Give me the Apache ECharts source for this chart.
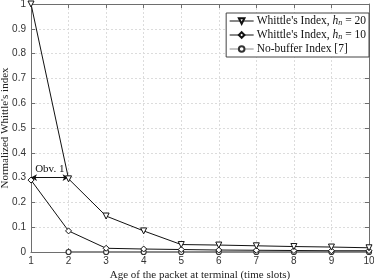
<!DOCTYPE html>
<html><head><meta charset="utf-8">
<script src="https://cdn.jsdelivr.net/npm/echarts@6/dist/echarts.min.js"></script>
<style>html,body{margin:0;padding:0;background:#fff}#c{width:374px;height:280px}</style>
</head><body><div id="c"></div>
<script>
const ages = [1,2,3,4,5,6,7,8,9,10];
const whittle20 = [1.0,0.295,0.145,0.085,0.030,0.028,0.025,0.022,0.020,0.017];
const whittle10 = [0.29,0.085,0.015,0.012,0.010,0.008,0.007,0.006,0.005,0.005];
const noBuffer = [null,0,0,0,0,0,0,0,0,0];
const names = ["Whittle's Index, h_n = 20","Whittle's Index, h_n = 10","No-buffer Index [7]"];
const obvText = 'Obv. 1';
const xLabel = 'Age of the packet at terminal (time slots)';
const yLabel = "Normalized Whittle's index";

const pairs = a => ages.map((x,i)=>[x,a[i]]);
const serif = 'Liberation Serif, DejaVu Serif, serif';
const sans = 'Liberation Sans, Arial, sans-serif';
const axisCol = '#6e6e6e';

const chart = echarts.init(document.getElementById('c'));
const baseX = {type:'value',min:1,max:10,interval:1};
const baseY = {type:'value',min:0,max:1,interval:0.1};
chart.setOption({
  animation:false,
  grid:{left:31,right:5,top:4,bottom:28,show:false,containLabel:false,outerBoundsMode:'none'},
  xAxis:[
    Object.assign({},baseX,{position:'bottom',name:xLabel,nameLocation:'middle',nameGap:18,nameMoveOverlap:false,
      nameTextStyle:{fontFamily:serif,fontSize:11,color:'#222'},
      axisLine:{show:true,lineStyle:{color:axisCol,width:1}},
      axisTick:{show:true,inside:true,length:4,lineStyle:{color:axisCol}},
      axisLabel:{fontFamily:sans,fontSize:10,color:'#333',margin:4},
      splitLine:{show:true,lineStyle:{color:'#dcdcdc',type:[2,2],width:1}}}),
    Object.assign({},baseX,{position:'top',
      axisLine:{show:true,onZero:false,lineStyle:{color:axisCol,width:1}},
      axisTick:{show:true,inside:true,length:4,lineStyle:{color:axisCol}},
      axisLabel:{show:false},splitLine:{show:false}})
  ],
  yAxis:[
    Object.assign({},baseY,{position:'left',name:yLabel,nameLocation:'middle',nameGap:20,nameMoveOverlap:false,
      nameTextStyle:{fontFamily:serif,fontSize:11,color:'#222'},
      axisLine:{show:true,lineStyle:{color:axisCol,width:1}},
      axisTick:{show:true,inside:true,length:4,lineStyle:{color:axisCol}},
      axisLabel:{fontFamily:sans,fontSize:10,color:'#333',margin:5,
        formatter:v=>String(Math.round(v*10)/10)},
      splitLine:{show:true,lineStyle:{color:'#dcdcdc',type:[2,2],width:1}}}),
    Object.assign({},baseY,{position:'right',
      axisLine:{show:true,onZero:false,lineStyle:{color:axisCol,width:1}},
      axisTick:{show:true,inside:true,length:4,lineStyle:{color:axisCol}},
      axisLabel:{show:false},splitLine:{show:false}})
  ],
  legend:{
    right:5,top:13,orient:'vertical',itemGap:2,itemWidth:24,itemHeight:7,
    backgroundColor:'#fff',borderColor:'#444',borderWidth:1,padding:[2,3,2,3],
    lineStyle:{width:1},
    data:names,
    textStyle:{fontFamily:serif,fontSize:11.5,color:'#111',padding:[0,0,0,-2],
      rich:{i:{fontFamily:serif,fontStyle:'italic',fontSize:11.5},s:{fontFamily:serif,fontStyle:'italic',fontSize:8,verticalAlign:'bottom',padding:[4,0,0,0]},t:{fontFamily:serif,fontSize:11.5}}},
    formatter:n=>{
      const m = n.match(/^(.*)h_n(.*)$/);
      if(m) return '{t|'+m[1]+'}{i|h}{s|n}{t|'+m[2]+'}';
      return n;
    }
  },
  series:[
    {name:names[0],type:'line',xAxisIndex:0,yAxisIndex:0,data:pairs(whittle20),
      symbol:'triangle',symbolRotate:180,symbolSize:6,z:5,
      lineStyle:{color:'#111',width:1},itemStyle:{color:'#fff',borderColor:'#111',borderWidth:1},
      markLine:{silent:true,symbol:['arrow','arrow'],symbolSize:[5,6],
        lineStyle:{color:'#111',width:1,type:'solid'},
        label:{show:true,position:'middle',formatter:obvText,fontFamily:serif,fontSize:11,color:'#111',distance:3},
        data:[[{coord:[1,0.3]},{coord:[2,0.3]}]]}},
    {name:names[1],type:'line',xAxisIndex:0,yAxisIndex:0,data:pairs(whittle10),
      symbol:'diamond',symbolSize:6,z:4,
      lineStyle:{color:'#111',width:1},itemStyle:{color:'#fff',borderColor:'#111',borderWidth:1}},
    {name:names[2],type:'line',xAxisIndex:0,yAxisIndex:0,data:pairs(noBuffer),
      symbol:'circle',symbolSize:5,z:3,
      lineStyle:{color:'#8a8a8a',width:2},itemStyle:{color:'#fff',borderColor:'#333',borderWidth:1.2}}
  ]
});
</script></body></html>
